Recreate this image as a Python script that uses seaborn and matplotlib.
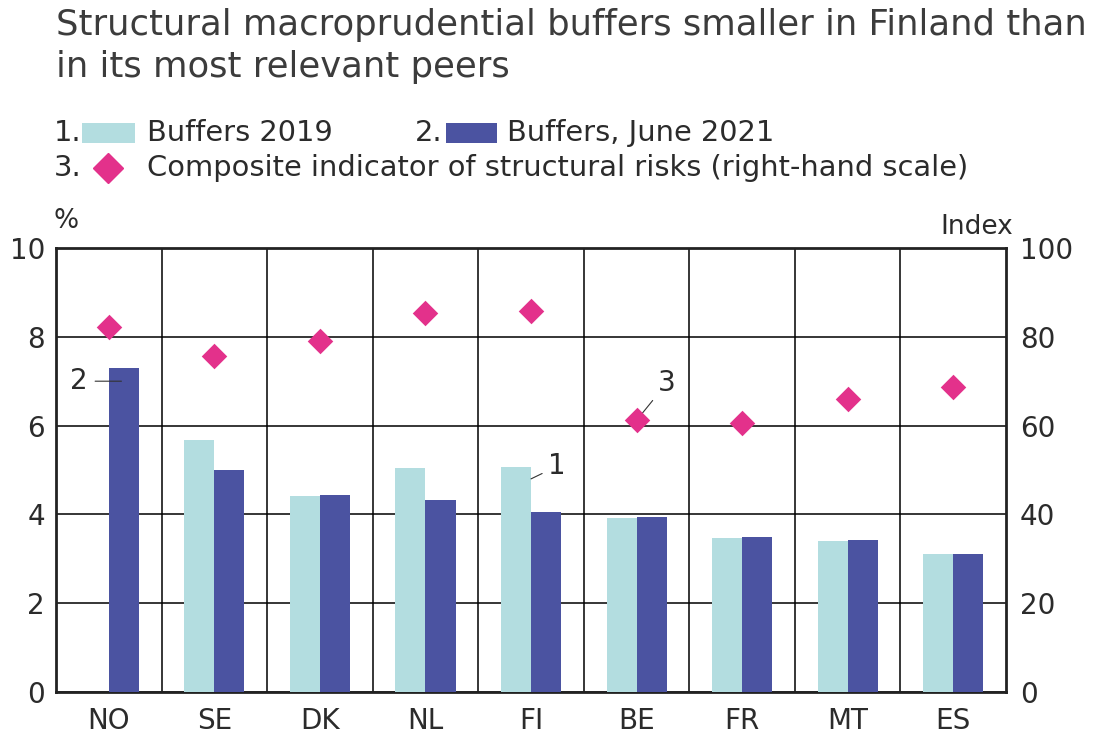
import numpy as np
import pandas as pd
import seaborn as sns
import matplotlib
matplotlib.use("Agg")
import matplotlib.pyplot as plt
from matplotlib.patches import Rectangle
from matplotlib.ticker import FixedLocator

countries = ["NO", "SE", "DK", "NL", "FI", "BE", "FR", "MT", "ES"]
buffers_2019 = [np.nan, 5.67, 4.41, 5.04, 5.07, 3.91, 3.46, 3.41, 3.10]
buffers_2021 = [7.29, 5.00, 4.43, 4.33, 4.06, 3.95, 3.48, 3.43, 3.10]
risk_index = [82.3, 75.6, 79.0, 85.4, 85.9, 61.2, 60.5, 65.9, 68.8]
series_names = ["Buffers 2019", "Buffers, June 2021"]

light = "#b3dde0"
dark = "#4b53a1"
pink = "#e3318b"
txt = "#2b2b2b"

sns.set_theme(style="white")
plt.rcParams['font.family'] = ['DejaVu Sans']

df = pd.DataFrame({
    "country": countries * 2,
    "series": [series_names[0]] * len(countries) + [series_names[1]] * len(countries),
    "value": buffers_2019 + buffers_2021,
})
risk_df = pd.DataFrame({"country": countries, "risk": risk_index})

fig = plt.figure(figsize=(10.94, 7.35), dpi=100)
ax = fig.add_axes([0.0512, 0.0585, 0.8684, 0.6041])

sns.barplot(data=df, x="country", y="value", hue="series", order=countries,
            hue_order=series_names, palette=[light, dark], width=0.57,
            saturation=1, legend=False, linewidth=0, ax=ax, zorder=3)
ax.set_ylim(0, 10)
ax.set_xlim(-0.5, len(countries) - 0.5)
ax.set_yticks(range(0, 11, 2))
ax.xaxis.set_minor_locator(FixedLocator(np.arange(0.5, len(countries) - 1, 1)))
ax.set_axisbelow(True)
ax.grid(False)
ax.grid(True, axis="y", which="major", color="black", lw=1.1)
ax.grid(True, axis="x", which="minor", color="black", lw=1.1)
ax.set_xlabel("")
ax.set_ylabel("")
ax.tick_params(axis="both", which="both", length=0, labelsize=20, labelcolor=txt)
ax.tick_params(axis="x", pad=11)
ax.tick_params(axis="y", pad=8)
for s in ax.spines.values():
    s.set_visible(True)
    s.set_color("#222222")
    s.set_linewidth(2)

ax2 = ax.twinx()
sns.stripplot(data=risk_df, x="country", y="risk", order=countries, jitter=False,
              marker="D", size=13, color=pink, linewidth=0, ax=ax2, zorder=5)
ax2.set_ylim(0, 100)
ax2.set_xlim(-0.5, len(countries) - 0.5)
ax2.set_yticks(range(0, 101, 20))
ax2.set_ylabel("")
ax2.set_xlabel("")
ax2.grid(False)
ax2.tick_params(axis="y", length=0, labelsize=20, labelcolor=txt, pad=10)
for s in ax2.spines.values():
    s.set_visible(False)

# units
fig.text(0.049, 0.682, "%", fontsize=19, color=txt, ha="left", va="bottom")
fig.text(0.926, 0.674, "Index", fontsize=19, color=txt, ha="right", va="bottom")

# title
fig.text(0.051, 0.989, "Structural macroprudential buffers smaller in Finland than\nin its most relevant peers",
         fontsize=25.5, color="#3c3c3c", ha="left", va="top", linespacing=1.3)

# legend
fs = 20.8
y1, y2 = 0.819, 0.771
fig.text(0.049, y1, "1.", fontsize=fs, color=txt, va="center")
fig.patches.append(Rectangle((0.075, y1 - 0.0136), 0.048, 0.0272, transform=fig.transFigure,
                             facecolor=light, edgecolor="none"))
fig.text(0.134, y1, series_names[0], fontsize=fs, color=txt, va="center")
fig.text(0.379, y1, "2.", fontsize=fs, color=txt, va="center")
fig.patches.append(Rectangle((0.408, y1 - 0.0136), 0.046, 0.0272, transform=fig.transFigure,
                             facecolor=dark, edgecolor="none"))
fig.text(0.463, y1, series_names[1], fontsize=fs, color=txt, va="center")
fig.text(0.049, y2, "3.", fontsize=fs, color=txt, va="center")
fig.lines.append(plt.Line2D([0.099], [y2], marker="D", markersize=15, color=pink, lw=0,
                            transform=fig.transFigure))
fig.text(0.134, y2, "Composite indicator of structural risks (right-hand scale)",
         fontsize=fs, color=txt, va="center")

# series callouts
ax.annotate("2", xy=(0.12, 7.0), xytext=(-0.2, 7.0), fontsize=20, color=txt,
            ha="right", va="center",
            arrowprops=dict(arrowstyle="-", color="#333333", lw=0.8, shrinkA=3, shrinkB=0))
ax.annotate("1", xy=(4.0, 4.8), xytext=(4.16, 5.08), fontsize=20, color=txt,
            ha="left", va="center",
            arrowprops=dict(arrowstyle="-", color="#333333", lw=0.8, shrinkA=2, shrinkB=0))
ax2.annotate("3", xy=(5.0, 61.2), xytext=(5.2, 69.5), fontsize=20, color=txt,
             ha="left", va="center",
             arrowprops=dict(arrowstyle="-", color="#333333", lw=0.8, shrinkA=2, shrinkB=4))

fig.savefig("out.png", dpi=100)
